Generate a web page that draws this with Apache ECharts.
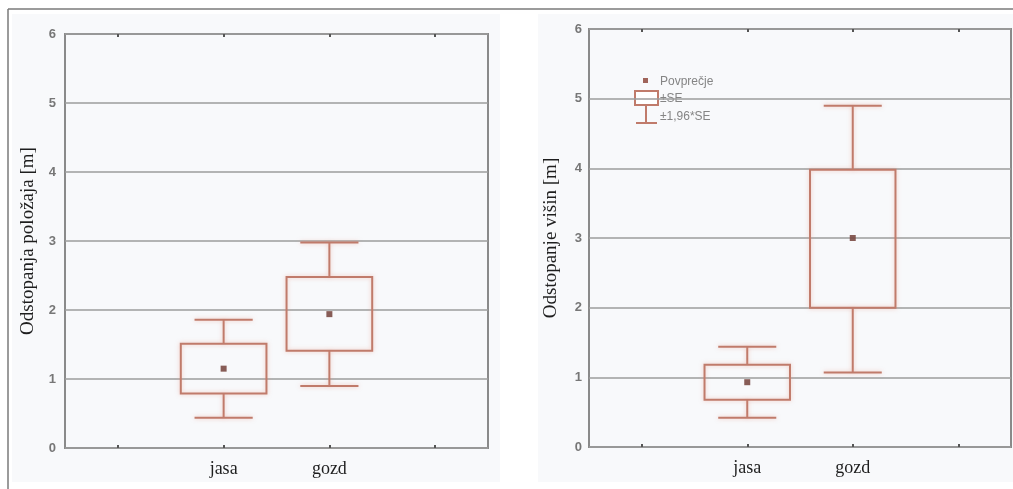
<!DOCTYPE html>
<html>
<head>
<meta charset="utf-8">
<script src="https://cdn.jsdelivr.net/npm/echarts@6/dist/echarts.min.js"></script>
<style>
  html, body { margin: 0; padding: 0; background: #ffffff; }
  #chart { width: 1013px; height: 489px; }
</style>
</head>
<body>
<div id="chart"></div>
<script>
// Axis slots: the two groups sit in the middle of four category bands
const xSlots = ['', 'jasa', 'gozd', ''];
const groups = ['jasa', 'gozd'];
const yTicks = [0, 1, 2, 3, 4, 5, 6];

// Odstopanja položaja [m]
const polozajMean = [1.15, 1.94];
const polozajSE = [[0.79, 1.51], [1.41, 2.48]];
const polozajCI = [[0.44, 1.86], [0.90, 2.98]];

// Odstopanje višin [m]
const visinMean = [0.93, 3.00];
const visinSE = [[0.68, 1.18], [2.00, 3.98]];
const visinCI = [[0.42, 1.44], [1.07, 4.90]];

const legendLabels = ['Povprečje', '±SE', '±1,96*SE'];

const boxColor = '#c07b6b';
const meanColor = '#7a4a44';
const gridColor = '#9c9c9c';
const frameColor = '#8a8a8a';

function boxRows(se, ci) {
  return groups.map((g, i) => [g, ci[i][0], se[i][0], se[i][1], ci[i][1]]);
}
function meanRows(mean) {
  return groups.map((g, i) => [g, mean[i]]);
}

function renderBox(params, api) {
  const cat = api.value(0);
  const band = api.size([1, 0])[0];
  const pLo = api.coord([cat, api.value(1)]);
  const pSeLo = api.coord([cat, api.value(2)]);
  const pSeHi = api.coord([cat, api.value(3)]);
  const pHi = api.coord([cat, api.value(4)]);
  const cx = pLo[0];
  const bw = band * 0.81;
  const cw = band * 0.55;
  const style = {
    stroke: boxColor, lineWidth: 2, fill: null,
    shadowColor: 'rgba(235,150,130,0.5)', shadowBlur: 4
  };
  return {
    type: 'group',
    children: [
      { type: 'line', shape: { x1: cx, y1: pHi[1], x2: cx, y2: pSeHi[1] }, style: style },
      { type: 'line', shape: { x1: cx, y1: pSeLo[1], x2: cx, y2: pLo[1] }, style: style },
      { type: 'line', shape: { x1: cx - cw / 2, y1: pHi[1], x2: cx + cw / 2, y2: pHi[1] }, style: style },
      { type: 'line', shape: { x1: cx - cw / 2, y1: pLo[1], x2: cx + cw / 2, y2: pLo[1] }, style: style },
      { type: 'rect', shape: { x: cx - bw / 2, y: pSeHi[1], width: bw, height: pSeLo[1] - pSeHi[1] },
        style: Object.assign({}, style, { fill: 'rgba(255,255,255,0.0)' }) }
    ]
  };
}

function xAxesFor(gridIndex) {
  return [
    {
      type: 'category', gridIndex: gridIndex, data: xSlots, position: 'bottom',
      boundaryGap: true,
      axisLine: { show: false },
      axisTick: { show: true, inside: true, length: 3, alignWithLabel: true, interval: 0,
                  lineStyle: { color: '#555', width: 2 } },
      axisLabel: { interval: 0, margin: 12, color: '#1e1e1e', fontSize: 18,
                   fontFamily: 'Liberation Serif' },
      splitLine: { show: false }
    },
    {
      type: 'category', gridIndex: gridIndex, data: xSlots, position: 'top',
      boundaryGap: true,
      axisLine: { show: false },
      axisTick: { show: true, inside: true, length: 3, alignWithLabel: true, interval: 0,
                  lineStyle: { color: '#555', width: 2 } },
      axisLabel: { show: false }
    }
  ];
}

function yAxisFor(gridIndex, title, labelMargin, nameGap) {
  return {
    type: 'value', gridIndex: gridIndex, min: 0, max: 6, interval: 1,
    name: title, nameLocation: 'middle', nameGap: nameGap, nameRotate: 90,
    nameTextStyle: { color: '#1e1e1e', fontSize: 19, fontFamily: 'Liberation Serif' },
    axisLine: { show: false },
    axisTick: { show: false },
    axisLabel: {
      margin: labelMargin, color: '#777777', fontSize: 13, fontWeight: 'bold',
      fontFamily: 'Liberation Sans',
      formatter: v => (yTicks.indexOf(v) >= 0 ? String(v) : '')
    },
    splitLine: { show: true, lineStyle: { color: gridColor, width: 1.5 } }
  };
}

const chart = echarts.init(document.getElementById('chart'), null, { renderer: 'canvas' });

const legendX = 633;
const option = {
  backgroundColor: '#ffffff',
  animation: false,
  grid: [
    { left: 65, top: 34, width: 423, height: 414, show: true,
      borderColor: frameColor, borderWidth: 2, backgroundColor: 'transparent' },
    { left: 589, top: 29, width: 422, height: 418, show: true,
      borderColor: frameColor, borderWidth: 2, backgroundColor: 'transparent' }
  ],
  xAxis: xAxesFor(0).concat(xAxesFor(1)),
  yAxis: [
    yAxisFor(0, 'Odstopanja položaja [m]', 9, 27),
    yAxisFor(1, 'Odstopanje višin [m]', 7, 28)
  ],
  graphic: [
    // panel backgrounds and outer frame
    { type: 'rect', z: -10, shape: { x: 12, y: 14, width: 488, height: 468 }, style: { fill: '#f8f9fb' } },
    { type: 'rect', z: -10, shape: { x: 538, y: 14, width: 475, height: 468 }, style: { fill: '#f8f9fb' } },
    { type: 'line', z: -5, shape: { x1: 8, y1: 9, x2: 1013, y2: 9 }, style: { stroke: '#7a7a7a', lineWidth: 1.5 } },
    { type: 'line', z: -5, shape: { x1: 8, y1: 9, x2: 8, y2: 489 }, style: { stroke: '#7a7a7a', lineWidth: 1.5 } },
    // key for the right-hand panel
    {
      type: 'group', z: 50,
      children: [
        { type: 'rect', shape: { x: legendX, y: 72, width: 119, height: 56 }, style: { fill: '#f8f9fb' } },
        { type: 'rect', shape: { x: legendX + 10, y: 78, width: 5, height: 5 }, style: { fill: '#a0645a' } },
        { type: 'rect', shape: { x: legendX + 2, y: 91, width: 23, height: 14 },
          style: { fill: '#ffffff', stroke: boxColor, lineWidth: 2 } },
        { type: 'line', shape: { x1: legendX + 13, y1: 105, x2: legendX + 13, y2: 123 },
          style: { stroke: boxColor, lineWidth: 2 } },
        { type: 'line', shape: { x1: legendX + 3, y1: 123, x2: legendX + 24, y2: 123 },
          style: { stroke: boxColor, lineWidth: 2 } },
        { type: 'text', x: legendX + 27, y: 82, style: { text: legendLabels[0], fill: '#858585',
          font: '12px "Liberation Sans"', verticalAlign: 'middle' } },
        { type: 'text', x: legendX + 27, y: 99, style: { text: legendLabels[1], fill: '#858585',
          font: '12px "Liberation Sans"', verticalAlign: 'middle' } },
        { type: 'text', x: legendX + 27, y: 117, style: { text: legendLabels[2], fill: '#858585',
          font: '12px "Liberation Sans"', verticalAlign: 'middle' } }
      ]
    }
  ],
  series: [
    { type: 'custom', xAxisIndex: 0, yAxisIndex: 0, renderItem: renderBox,
      encode: { x: 0, y: [1, 2, 3, 4] }, data: boxRows(polozajSE, polozajCI), z: 5 },
    { type: 'scatter', xAxisIndex: 0, yAxisIndex: 0, symbol: 'rect', symbolSize: 6,
      itemStyle: { color: meanColor, opacity: 0.9 }, data: meanRows(polozajMean), z: 6 },
    { type: 'custom', xAxisIndex: 2, yAxisIndex: 1, renderItem: renderBox,
      encode: { x: 0, y: [1, 2, 3, 4] }, data: boxRows(visinSE, visinCI), z: 5 },
    { type: 'scatter', xAxisIndex: 2, yAxisIndex: 1, symbol: 'rect', symbolSize: 6,
      itemStyle: { color: meanColor, opacity: 0.9 }, data: meanRows(visinMean), z: 6 }
  ]
};

chart.setOption(option);
</script>
</body>
</html>
